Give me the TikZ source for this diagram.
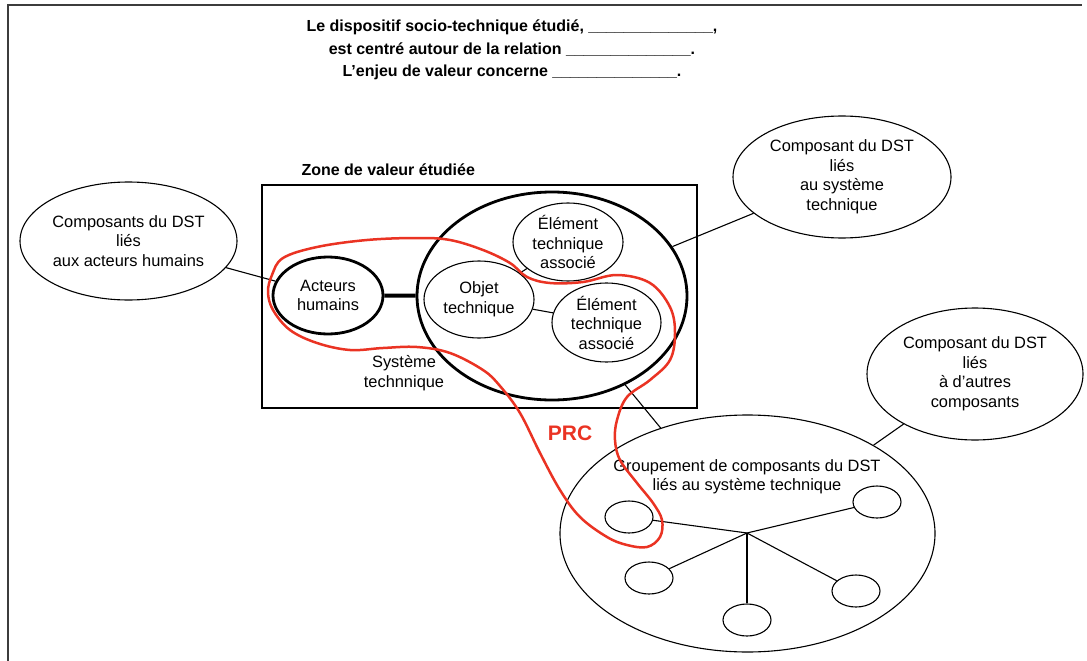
\documentclass[tikz,border=0pt]{standalone}
\usepackage{fontspec}
\setmainfont{Liberation Sans}
\usetikzlibrary{shapes.geometric}
\definecolor{prcred}{RGB}{234,51,35}
\definecolor{framegray}{RGB}{60,60,60}
\begin{document}
\begin{tikzpicture}[x=1pt,y=-1pt,
  every node/.style={font=\fontsize{16.4}{19.5}\selectfont},
  ell/.style={ellipse,draw,line width=1.1pt,inner sep=0pt},
  thickell/.style={ellipse,draw,line width=2.8pt,inner sep=0pt},
  txt/.style={label={[align=center]center:{#1}}},
  conn/.style={line width=1.1pt},
  thickconn/.style={line width=4pt},
  titlefont/.style={font=\bfseries\fontsize{16}{22.5}\selectfont},
  prcline/.style={prcred,line width=2.5pt}]
\useasboundingbox (0,0) rectangle (1087,661);
% frame
\draw[framegray,line width=1.3pt] (8,661) -- (8,5) -- (1082,5);
% title
\node[titlefont,align=center] (title) at (512,50)
  {Le dispositif socio-technique étudié, \_\_\_\_\_\_\_\_\_\_\_\_\_\_,\\
   est centré autour de la relation \_\_\_\_\_\_\_\_\_\_\_\_\_\_.\\
   L’enjeu de valeur concerne \_\_\_\_\_\_\_\_\_\_\_\_\_\_.};
% zone
\node[titlefont,anchor=west] (zonelbl) at (298,170) {Zone de valeur étudiée};
\node[draw,line width=2.8pt,minimum width=435pt,minimum height=223pt,inner sep=0pt] (zone) at (479.5,296.5) {};
% ellipses in zone
\node[thickell,minimum width=270pt,minimum height=208pt] (sys) at (552,296) {};
\node (syslbl) at (404,373) [align=center] {Système\\technnique};
\node[thickell,minimum width=110pt,minimum height=77pt,txt={Acteurs\\humains}] (act) at (328,295.5) {};
\node[ell,minimum width=110pt,minimum height=77pt,txt={Objet\\technique}] (obj) at (479,299.5) {};
\node[ell,minimum width=110pt,minimum height=78pt,txt={Élément\\technique\\associé}] (el1) at (568,242) {};
\node[ell,minimum width=109pt,minimum height=79pt,txt={Élément\\technique\\associé}] (el2) at (606.5,322.5) {};
% outside ellipses
\node[ell,minimum width=217pt,minimum height=118pt,txt={Composants du DST\\liés\\aux acteurs humains}] (leftc) at (128.5,241) {};
\node[ell,minimum width=218pt,minimum height=122pt,txt={Composant du DST\\liés\\au système\\technique}] (topr) at (842,177) {};
\node[ell,minimum width=216pt,minimum height=132pt,txt={Composant du DST\\liés\\à d’autres\\composants}] (rightc) at (975,374) {};
\node[ell,minimum width=375pt,minimum height=237pt] (grp) at (747.5,533.5) {};
\node[align=center] (grplbl) at (747,477) {Groupement de composants du DST\\liés au système technique};
% small ellipses
\coordinate (hub) at (747,533);
\node[ell,minimum width=48pt,minimum height=32pt] (sa) at (629,517) {};
\node[ell,minimum width=48pt,minimum height=32pt] (sb) at (877,502) {};
\node[ell,minimum width=48pt,minimum height=32pt] (sc) at (649,578) {};
\node[ell,minimum width=48pt,minimum height=32pt] (sd) at (747,620) {};
\node[ell,minimum width=48pt,minimum height=32pt] (se) at (856,591) {};
% connectors
\draw[thickconn] (act) -- (sys);
\draw[conn] (obj) -- (el1);
\draw[conn] (obj) -- (el2);
\draw[conn] (leftc) -- (act);
\draw[conn] (sys) -- (topr);
\draw[conn] (sys) -- (grp);
\draw[conn] (rightc) -- (grp);
\draw[conn] (hub) -- (sa);
\draw[conn] (hub) -- (sb);
\draw[conn] (hub) -- (sc);
\draw[conn] (hub) -- (sd);
\draw[conn] (hub) -- (se);
% red PRC loop
\draw[prcline] plot[smooth cycle,tension=0.6] coordinates {
 (268,292) (272,275) (283,258) (317,247) (367,240) (417,238) (450,240)
 (483,250) (510,263) (527,277) (550,283) (583,282) (617,275) (650,283)
 (670,307) (675,333) (670,360) (650,380) (627,397) (617,420) (615,440)
 (620,460) (637,483) (653,503) (662,520) (660,537) (647,547) (627,545)
 (607,537) (580,517) (560,490) (540,453) (520,413) (500,386) (483,370)
 (450,353) (417,347) (383,348) (350,350) (317,343) (290,330) (273,310)};
\node[prcred,font=\bfseries\fontsize{21}{25}\selectfont] (prc) at (570,433) {PRC};
\end{tikzpicture}
\end{document}
